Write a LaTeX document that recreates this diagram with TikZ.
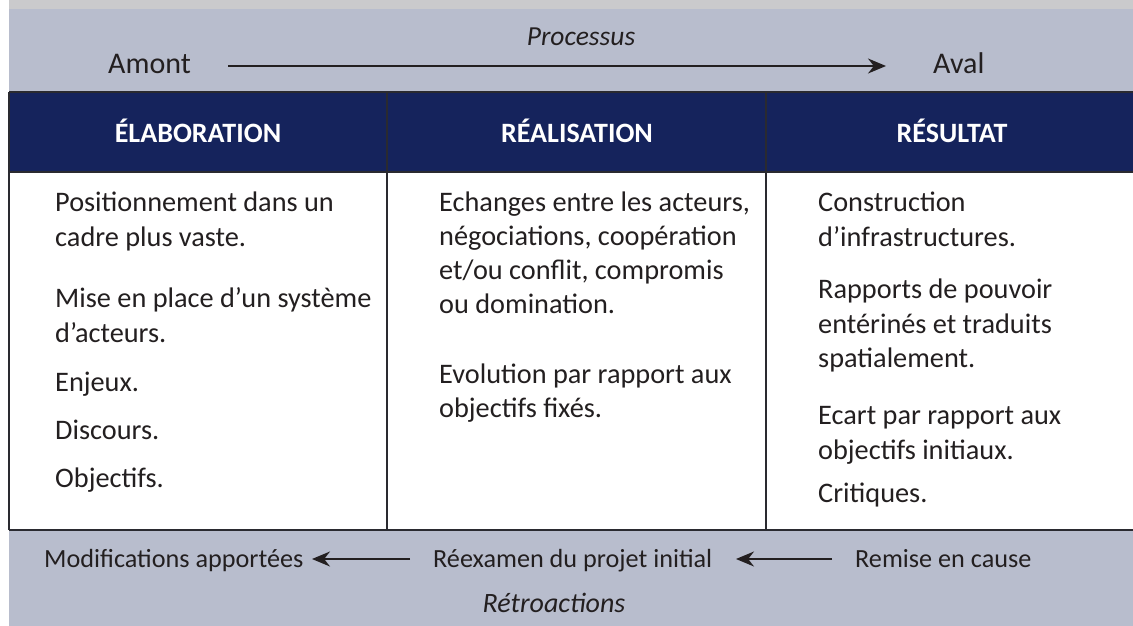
\documentclass[tikz,border=0pt]{standalone}
\usepackage{fontspec}
\setmainfont{Carlito}
\usetikzlibrary{arrows.meta}
\definecolor{band}{HTML}{B8BDCD}
\definecolor{navy}{HTML}{15235C}
\definecolor{ink}{HTML}{231F20}
\definecolor{rule}{HTML}{2A2A30}
\definecolor{topstrip}{HTML}{CACACC}
\begin{document}
\begin{tikzpicture}[x=1pt,y=-1pt,
  toptxt/.style={inner sep=0pt,text=ink,font=\fontsize{30}{34}\selectfont},
  bandtxt/.style={inner sep=0pt,text=ink,font=\fontsize{26.2}{32}\selectfont},
  bodytxt/.style={inner sep=0pt,text=ink,anchor=base west,font=\fontsize{28.3}{34}\selectfont},
  headtxt/.style={inner sep=0pt,text=white,anchor=base,font=\fontsize{28}{32}\selectfont\bfseries},
  arr/.style={draw=ink,line width=1.6pt,-{Stealth[length=18pt,width=15pt]}},
  frame/.style={draw=rule,line width=2pt}]
\useasboundingbox (0,0) rectangle (1133,626);
% backgrounds
\fill[topstrip] (9,0) rectangle (1133,9);
\fill[band] (9,9) rectangle (1133,92);
\fill[navy] (9,92) rectangle (1133,172);
\fill[white] (9,172) rectangle (1133,530);
\fill[band] (9,530) rectangle (1133,626);
% rules
\draw[frame] (9,92) -- (1133,92);
\draw[frame] (9,172) -- (1133,172);
\draw[frame] (9,530) -- (1133,530);
\draw[frame] (9,92) -- (9,530);
\draw[frame] (387,92) -- (387,530);
\draw[frame] (766,92) -- (766,530);
% top band
\node[inner sep=0pt,text=ink,anchor=base,font=\fontsize{27.5}{32}\selectfont\itshape] (proc) at (581,46) {Processus};
\node[toptxt,anchor=base west] (amont) at (108,74) {Amont};
\node[toptxt,anchor=base west] (aval) at (933,74) {Aval};
\coordinate (pa) at (228,66);
\coordinate (pb) at (886,66);
\draw[arr] (pa) -- (pb);
% headers
\node[headtxt] (h1) at (198,142) {ÉLABORATION};
\node[headtxt] (h2) at (577,142) {RÉALISATION};
\node[headtxt] (h3) at (952,142) {RÉSULTAT};
% column 1
\node[bodytxt] (a1) at (55,211) {Positionnement dans un};
\node[bodytxt] (a2) at (55,246) {cadre plus vaste.};
\node[bodytxt] (a3) at (55,307) {Mise en place d’un système};
\node[bodytxt] (a4) at (55,342) {d’acteurs.};
\node[bodytxt] (a5) at (55,391) {Enjeux.};
\node[bodytxt] (a6) at (55,439) {Discours.};
\node[bodytxt] (a7) at (55,487) {Objectifs.};
% column 2
\node[bodytxt] (b1) at (439,211) {Echanges entre les acteurs,};
\node[bodytxt] (b2) at (439,245) {négociations, coopération};
\node[bodytxt] (b3) at (439,279) {et/ou conflit, compromis};
\node[bodytxt] (b4) at (439,313) {ou domination.};
\node[bodytxt] (b5) at (439,383) {Evolution par rapport aux};
\node[bodytxt] (b6) at (439,417) {objectifs fixés.};
% column 3
\node[bodytxt] (c1) at (818,211) {Construction};
\node[bodytxt] (c2) at (818,246) {d’infrastructures.};
\node[bodytxt] (c3) at (818,298) {Rapports de pouvoir};
\node[bodytxt] (c4) at (818,333) {entérinés et traduits};
\node[bodytxt] (c5) at (818,367) {spatialement.};
\node[bodytxt] (c6) at (818,424) {Ecart par rapport aux};
\node[bodytxt] (c7) at (818,459) {objectifs initiaux.};
\node[bodytxt] (c8) at (818,502) {Critiques.};
% bottom band
\node[bandtxt,anchor=base west] (modif) at (44,567) {Modifications apportées};
\node[bandtxt,anchor=base west] (reex) at (433,567) {Réexamen du projet initial};
\node[bandtxt,anchor=base west] (remise) at (855,567) {Remise en cause};
\coordinate (ra) at (832,559);
\coordinate (rb) at (736,559);
\coordinate (ma) at (410,559);
\coordinate (mb) at (312,559);
\draw[arr] (ra) -- (rb);
\draw[arr] (ma) -- (mb);
\node[inner sep=0pt,text=ink,anchor=base,font=\fontsize{28}{32}\selectfont\itshape] (retro) at (554,612) {Rétroactions};
\end{tikzpicture}
\end{document}
